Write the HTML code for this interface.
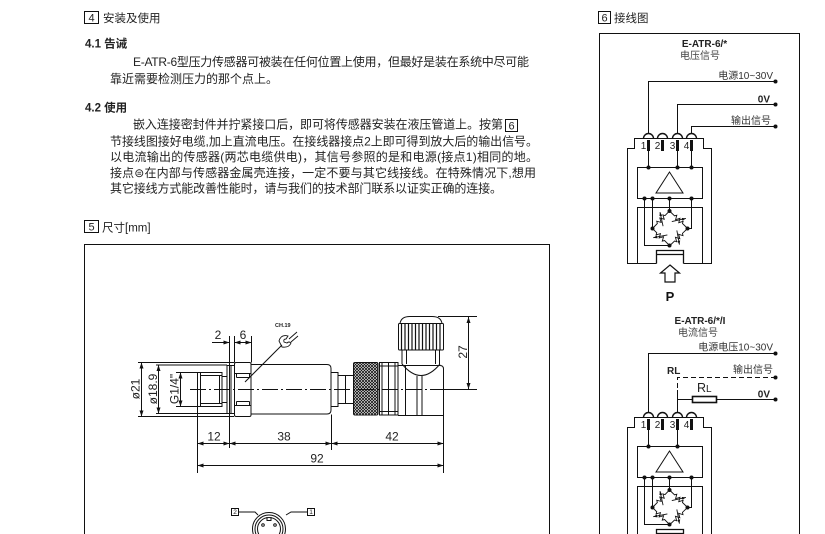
<!DOCTYPE html>
<html><head><meta charset="utf-8"><style>
html,body{margin:0;padding:0;background:#fff;}
svg{display:block;}
text{font-family:"Liberation Sans","Noto Sans CJK SC",sans-serif;}
</style></head><body>
<svg xmlns="http://www.w3.org/2000/svg" width="825" height="534" viewBox="0 0 825 534">
<defs>
<marker id="ar" viewBox="0 0 6 4" markerWidth="6" markerHeight="4" refX="6" refY="2" orient="auto-start-reverse" markerUnits="userSpaceOnUse"><path d="M0 0L6 2L0 4z" fill="#111"/></marker>
<marker id="ar2" viewBox="0 0 4 3" markerWidth="4" markerHeight="3" refX="4" refY="1.5" orient="auto" markerUnits="userSpaceOnUse"><path d="M0 0L4 1.5L0 3z" fill="#111"/></marker>
<pattern id="kn" width="3" height="3" patternUnits="userSpaceOnUse"><path d="M0 0L3 3M3 0L0 3" stroke="#111" stroke-width="0.8"/></pattern>
</defs>

<!-- ===== Section 4 text ===== -->
<g fill="#222">
<rect x="84.5" y="11.5" width="14" height="12" fill="none" stroke="#111"/>
<text x="91.5" y="21.5" font-size="11" text-anchor="middle">4</text>
<text x="103" y="22" font-size="11.5">安装及使用</text>
<text x="85" y="47.5" font-size="11.5" font-weight="bold">4.1 告诫</text>
<text x="133" y="66" font-size="12" textLength="396" lengthAdjust="spacing">E-ATR-6型压力传感器可被装在任何位置上使用，但最好是装在系统中尽可能</text>
<text x="110" y="83" font-size="12">靠近需要检测压力的那个点上。</text>
<text x="85" y="111.5" font-size="11.5" font-weight="bold">4.2 使用</text>
<text x="133" y="128.5" font-size="12" textLength="370" lengthAdjust="spacing">嵌入连接密封件并拧紧接口后，即可将传感器安装在液压管道上。按第</text>
<rect x="505.5" y="119.5" width="12" height="12" fill="none" stroke="#111"/>
<text x="511.5" y="129.5" font-size="11" text-anchor="middle">6</text>
<text x="110" y="145.5" font-size="12" textLength="428" lengthAdjust="spacing">节接线图接好电缆,加上直流电压。在接线器接点2上即可得到放大后的输出信号。</text>
<text x="110" y="161" font-size="12" textLength="428" lengthAdjust="spacing">以电流输出的传感器(两芯电缆供电)，其信号参照的是和电源(接点1)相同的地。</text>
<text x="110" y="177" font-size="12" textLength="426" lengthAdjust="spacing">接点⊜在内部与传感器金属壳连接，一定不要与其它线接线。在特殊情况下,想用</text>
<text x="110" y="192.5" font-size="12" textLength="392" lengthAdjust="spacing">其它接线方式能改善性能时，请与我们的技术部门联系以证实正确的连接。</text>
</g>

<!-- ===== Section 5 ===== -->
<g fill="#222">
<rect x="84.5" y="220.5" width="14" height="12" fill="none" stroke="#111"/>
<text x="91.5" y="230.5" font-size="11" text-anchor="middle">5</text>
<text x="102" y="231.5" font-size="11.5">尺寸[mm]</text>
</g>
<path d="M84.5 534V244.5H549.5V534" fill="none" stroke="#111"/>

<!-- sensor drawing -->
<g fill="none" stroke="#111" stroke-width="1">
<!-- centerline -->
<path d="M190 389.5H443" stroke-dasharray="16 3 2 3"/>
<path d="M443 389.5H477"/>
<!-- thread -->
<rect x="197.5" y="372.5" width="24.5" height="34"/>
<path d="M200.5 372.5V406.5M200.5 375.5H222M200.5 403.5H222M219.5 375.5V403.5"/>
<path d="M222 376.5H227M222 402.5H227"/>
<!-- washer -->
<path d="M227 365.5V413.5M231 365.5V413.5M227 365.5H234.5M227 413.5H234.5"/>
<!-- extension lines for 2/6/12 -->
<path d="M229.5 336V448M234.5 336V362.5M251.5 336V362.5"/>
<!-- nut -->
<rect x="234.5" y="362.5" width="16.5" height="54" rx="1.5"/>
<path d="M234.5 373.5H251M234.5 405.5H251M236.5 377.5H249.5M236.5 401.5H249.5M236.5 373.5V377.5M249.5 373.5V377.5M236.5 401.5V405.5M249.5 401.5V405.5"/>
<!-- body -->
<path d="M251 364.5H327Q331 364.5 331 368.5V410Q331 414 327 414H251"/>
<!-- step & neck -->
<rect x="331" y="372.5" width="7" height="34"/>
<rect x="338" y="375.5" width="15.5" height="28"/>
<path d="M345.5 375.5V403.5"/>
<!-- knurled nut -->
<rect x="353.5" y="362.5" width="24.5" height="52.5" rx="1.5" fill="url(#kn)"/>
<!-- ribbed ring -->
<rect x="379.5" y="362.5" width="18.5" height="52.5"/>
<path d="M382 362.5V415M388.5 362.5V415M395 362.5V415M379.5 366H398M379.5 411.5H398"/>
<!-- connector body -->
<path d="M398 365.5H440Q443.5 365.5 443.5 369V415.5H398"/>
<path d="M405.5 365.5V415.5M417 376V415.5M422 376V415.5"/>
<path d="M402 364Q421 387 440 364"/>
<path d="M402 350V364M406.5 350V364M435.5 350V364M439.5 350V364"/>
<!-- cap -->
<rect x="398.5" y="323.5" width="45" height="26.5" rx="1"/>
<path d="M401.5 324V350M405 324V350M408.5 324V350M412 324V350M415.5 324V350M419 324V350M422.5 324V350M426 324V350M429.5 324V350M433 324V350M436.5 324V350M440 324V350" stroke-width="1.2"/>
<path d="M400 323.5Q401 316.5 410 316.5H432Q441 316.5 442 323.5"/>
<!-- 27 dim -->
<path d="M438 316.5H477"/>
<path d="M468.5 317V389" marker-start="url(#ar)" marker-end="url(#ar)"/>
<!-- diameter dims -->
<path d="M138 362.5H234M138 416.5H234"/>
<path d="M141.5 362.5V416.5" marker-start="url(#ar)" marker-end="url(#ar)"/>
<path d="M156 365H227M156 413.5H227"/>
<path d="M158.5 365V413.5" marker-start="url(#ar)" marker-end="url(#ar)"/>
<path d="M176 372.5H197M176 406.5H197"/>
<path d="M180.5 372.5V406.5" marker-start="url(#ar)" marker-end="url(#ar)"/>
<!-- top dims -->
<path d="M212 342.5H229.5" marker-end="url(#ar)"/>
<path d="M234.5 342.5H251.5" marker-start="url(#ar)" marker-end="url(#ar)"/>
<!-- bottom dims -->
<path d="M197.5 407V473M331.5 414.5V450M443.5 415.5V473"/>
<path d="M197.5 443.5H229.5" marker-start="url(#ar)" marker-end="url(#ar)"/>
<path d="M229.5 443.5H331.5" marker-start="url(#ar)" marker-end="url(#ar)"/>
<path d="M331.5 443.5H443.5" marker-start="url(#ar)" marker-end="url(#ar)"/>
<path d="M197.5 465.5H443.5" marker-start="url(#ar)" marker-end="url(#ar)"/>
<!-- wrench -->
<path d="M245 382L282 345"/>
<path d="M279 341Q281 334 288 336L286 339Q283 339 284 342L287 343Q289 341 291 343Q289 348 282 347Z M289 339L297 332M291 342L298 336" stroke-width="0.9"/>
<!-- bottom connector -->
<rect x="231.5" y="508.5" width="7" height="7"/>
<rect x="307.5" y="508.5" width="7" height="7"/>
<path d="M238.5 512H255L258 515M307.5 512H291L286 515"/>
<circle cx="269" cy="529" r="16.5"/>
<circle cx="269" cy="529" r="14"/>
<circle cx="269" cy="529" r="11.5"/>
<circle cx="263" cy="525" r="1.3"/>
<circle cx="275" cy="525" r="1.3"/>
<path d="M267 517V520.5H271V517"/>
</g>
<g fill="#222" font-size="12">
<text x="218" y="339" text-anchor="middle">2</text>
<text x="243" y="339" text-anchor="middle">6</text>
<text x="214" y="440.5" text-anchor="middle">12</text>
<text x="284" y="440.5" text-anchor="middle">38</text>
<text x="392" y="440.5" text-anchor="middle">42</text>
<text x="317" y="462.5" text-anchor="middle">92</text>
<text transform="translate(467,352) rotate(-90)" text-anchor="middle">27</text>
<text transform="translate(139.5,389) rotate(-90)" text-anchor="middle">ø21</text>
<text transform="translate(157,389) rotate(-90)" text-anchor="middle">ø18.9</text>
<text transform="translate(178.5,389) rotate(-90)" text-anchor="middle">G1/4"</text>
<text x="275" y="327" font-size="5.5" font-weight="bold">CH.19</text>
<text x="235" y="514" font-size="6.5" text-anchor="middle">2</text>
<text x="311" y="514" font-size="6.5" text-anchor="middle">1</text>
</g>

<!-- ===== Section 6 ===== -->
<g fill="#222">
<rect x="598.5" y="11.5" width="12" height="12" fill="none" stroke="#111"/>
<text x="604.5" y="21.5" font-size="11" text-anchor="middle">6</text>
<text x="614" y="22" font-size="11.5">接线图</text>
</g>
<path d="M599.5 534V33.5H799.5V534" fill="none" stroke="#111"/>

<!-- Diagram 1 top -->
<g fill="#222" font-size="10">
<text x="704.5" y="47" font-weight="bold" text-anchor="middle">E-ATR-6/*</text>
<text x="680" y="59" fill="#444">电压信号</text>
<text x="773" y="79" text-anchor="end" fill="#333">电源10~30V</text>
<text x="770" y="102.5" text-anchor="end" font-weight="bold">0V</text>
<text x="771" y="124" text-anchor="end" fill="#333">输出信号</text>
</g>
<g fill="none" stroke="#111">
<path d="M648.5 133.5V81.5H775.5M677.5 133.5V104.5H775.5M691.5 133.5V126.5H775.5"/>
</g>
<g fill="#111">
<circle cx="775.5" cy="81.5" r="2"/><circle cx="775.5" cy="104.5" r="2"/><circle cx="775.5" cy="126.5" r="2"/>
</g>

<!-- Diagram 1 lower -->
<g>
<g fill="none" stroke="#111" stroke-width="1">
<path d="M656.5 263.5H627.5V148.5H634.5V138.5H703.5V148.5H711.5V263.5H683.5"/>
<path d="M637.5 263.5V207.5H702.5V263.5"/>
<rect x="637.5" y="167.5" width="65" height="31"/>
<path d="M669.5 172L656 193H683Z"/>
<path d="M656.5 263.5V250.5H683.5V263.5M656.5 254.5H683.5" stroke-width="1.3"/>
<path d="M643.5 138.5A5 5 0 0 1 653.5 138.5M657.5 138.5A5 5 0 0 1 667.5 138.5M672.5 138.5A5 5 0 0 1 682.5 138.5M686.5 138.5A5 5 0 0 1 696.5 138.5" stroke-width="1.4"/>
<path d="M648.5 151V167.5M677.5 151V167.5M691.5 151V167.5"/>
<path d="M644.5 198.5V245.5H669.5M652.5 198.5V228.5M669.5 198.5V211M691.5 198.5V228.5H687.5"/>
<g stroke-width="0.9">
<g transform="translate(669.5,211) rotate(44)"><path d="M0 0H7l1.2-2 2.2 4 2.2-4 2.2 4 2.2-4 1 2H25"/><path d="M9 6L17-6" marker-end="url(#ar2)"/></g>
<g transform="translate(687.5,228.5) rotate(136)"><path d="M0 0H7l1.2-2 2.2 4 2.2-4 2.2 4 2.2-4 1 2H25"/><path d="M9 6L17-6" marker-end="url(#ar2)"/></g>
<g transform="translate(669.5,245.5) rotate(-135)"><path d="M0 0H7l1.2-2 2.2 4 2.2-4 2.2 4 2.2-4 1 2H24"/><path d="M9 6L17-6" marker-end="url(#ar2)"/></g>
<g transform="translate(652.5,228.5) rotate(-46)"><path d="M0 0H7l1.2-2 2.2 4 2.2-4 2.2 4 2.2-4 1 2H24.5"/><path d="M9 6L17-6" marker-end="url(#ar2)"/></g>
</g>
</g>
<g fill="#111">
<rect x="647" y="140" width="3" height="11"/><rect x="661" y="140" width="3" height="11"/><rect x="676" y="140" width="3" height="11"/><rect x="690" y="140" width="3" height="11"/>
<circle cx="648.5" cy="167.5" r="2"/><circle cx="677.5" cy="167.5" r="2"/><circle cx="691.5" cy="167.5" r="2"/>
<circle cx="644.5" cy="198.5" r="2"/><circle cx="652.5" cy="198.5" r="2"/><circle cx="669.5" cy="198.5" r="2"/><circle cx="691.5" cy="198.5" r="2"/>
<circle cx="669.5" cy="211" r="2"/><circle cx="652.5" cy="228.5" r="2"/><circle cx="687.5" cy="228.5" r="2"/><circle cx="669.5" cy="245.5" r="2"/>
</g>
<g fill="#222" font-size="10" text-anchor="middle">
<text x="643.5" y="149">1</text><text x="657.5" y="149">2</text><text x="672.5" y="149">3</text><text x="686.5" y="149">4</text>
</g>
</g>
<path d="M670 265L679.5 273H675V282H665V273H660.5Z" fill="none" stroke="#111" stroke-width="1.2"/>
<text x="670" y="301" font-size="13" font-weight="bold" text-anchor="middle" fill="#111">P</text>

<!-- Diagram 2 top -->
<g fill="#222" font-size="10">
<text x="700" y="324" font-weight="bold" text-anchor="middle">E-ATR-6/*/I</text>
<text x="678" y="336" fill="#444">电流信号</text>
<text x="773" y="350.5" text-anchor="end" fill="#333">电源电压10~30V</text>
<text x="667" y="374" font-weight="bold">RL</text>
<text x="773" y="373" text-anchor="end" fill="#333">输出信号</text>
<text x="697" y="392" font-size="12.5">R<tspan font-size="10">L</tspan></text>
<text x="770" y="397.5" text-anchor="end" font-weight="bold">0V</text>
</g>
<g fill="none" stroke="#111">
<path d="M648.5 413V353.5H775.5"/>
<path d="M677.5 413V390"/>
<path d="M677.5 388V377.5H775.5" stroke-dasharray="5 3"/>
<path d="M677.5 399.5H692.5M716.5 399.5H775.5"/>
<rect x="692.5" y="396.5" width="24" height="6" stroke-width="1.6"/>
</g>
<g fill="#111">
<circle cx="775.5" cy="353.5" r="2"/><circle cx="775.5" cy="377.5" r="2"/><circle cx="775.5" cy="399.5" r="2"/>
</g>

<!-- Diagram 2 lower -->
<g transform="translate(0,279)">
<g fill="none" stroke="#111" stroke-width="1">
<path d="M656.5 263.5H627.5V148.5H634.5V138.5H703.5V148.5H711.5V263.5H683.5"/>
<path d="M637.5 263.5V207.5H702.5V263.5"/>
<rect x="637.5" y="167.5" width="65" height="31"/>
<path d="M669.5 172L656 193H683Z"/>
<path d="M656.5 263.5V250.5H683.5V263.5M656.5 254.5H683.5" stroke-width="1.3"/>
<path d="M643.5 138.5A5 5 0 0 1 653.5 138.5M657.5 138.5A5 5 0 0 1 667.5 138.5M672.5 138.5A5 5 0 0 1 682.5 138.5M686.5 138.5A5 5 0 0 1 696.5 138.5" stroke-width="1.4"/>
<path d="M648.5 151V167.5M677.5 151V167.5"/>
<path d="M644.5 198.5V245.5H669.5M652.5 198.5V228.5M669.5 198.5V211M691.5 198.5V228.5H687.5"/>
<g stroke-width="0.9">
<g transform="translate(669.5,211) rotate(44)"><path d="M0 0H7l1.2-2 2.2 4 2.2-4 2.2 4 2.2-4 1 2H25"/><path d="M9 6L17-6" marker-end="url(#ar2)"/></g>
<g transform="translate(687.5,228.5) rotate(136)"><path d="M0 0H7l1.2-2 2.2 4 2.2-4 2.2 4 2.2-4 1 2H25"/><path d="M9 6L17-6" marker-end="url(#ar2)"/></g>
<g transform="translate(669.5,245.5) rotate(-135)"><path d="M0 0H7l1.2-2 2.2 4 2.2-4 2.2 4 2.2-4 1 2H24"/><path d="M9 6L17-6" marker-end="url(#ar2)"/></g>
<g transform="translate(652.5,228.5) rotate(-46)"><path d="M0 0H7l1.2-2 2.2 4 2.2-4 2.2 4 2.2-4 1 2H24.5"/><path d="M9 6L17-6" marker-end="url(#ar2)"/></g>
</g>
</g>
<g fill="#111">
<rect x="647" y="140" width="3" height="11"/><rect x="661" y="140" width="3" height="11"/><rect x="676" y="140" width="3" height="11"/><rect x="690" y="140" width="3" height="11"/>
<circle cx="648.5" cy="167.5" r="2"/><circle cx="677.5" cy="167.5" r="2"/>
<circle cx="644.5" cy="198.5" r="2"/><circle cx="652.5" cy="198.5" r="2"/><circle cx="669.5" cy="198.5" r="2"/><circle cx="691.5" cy="198.5" r="2"/>
<circle cx="669.5" cy="211" r="2"/><circle cx="652.5" cy="228.5" r="2"/><circle cx="687.5" cy="228.5" r="2"/><circle cx="669.5" cy="245.5" r="2"/>
</g>
<g fill="#222" font-size="10" text-anchor="middle">
<text x="643.5" y="149">1</text><text x="657.5" y="149">2</text><text x="672.5" y="149">3</text><text x="686.5" y="149">4</text>
</g>
</g>
</svg>
</body></html>
